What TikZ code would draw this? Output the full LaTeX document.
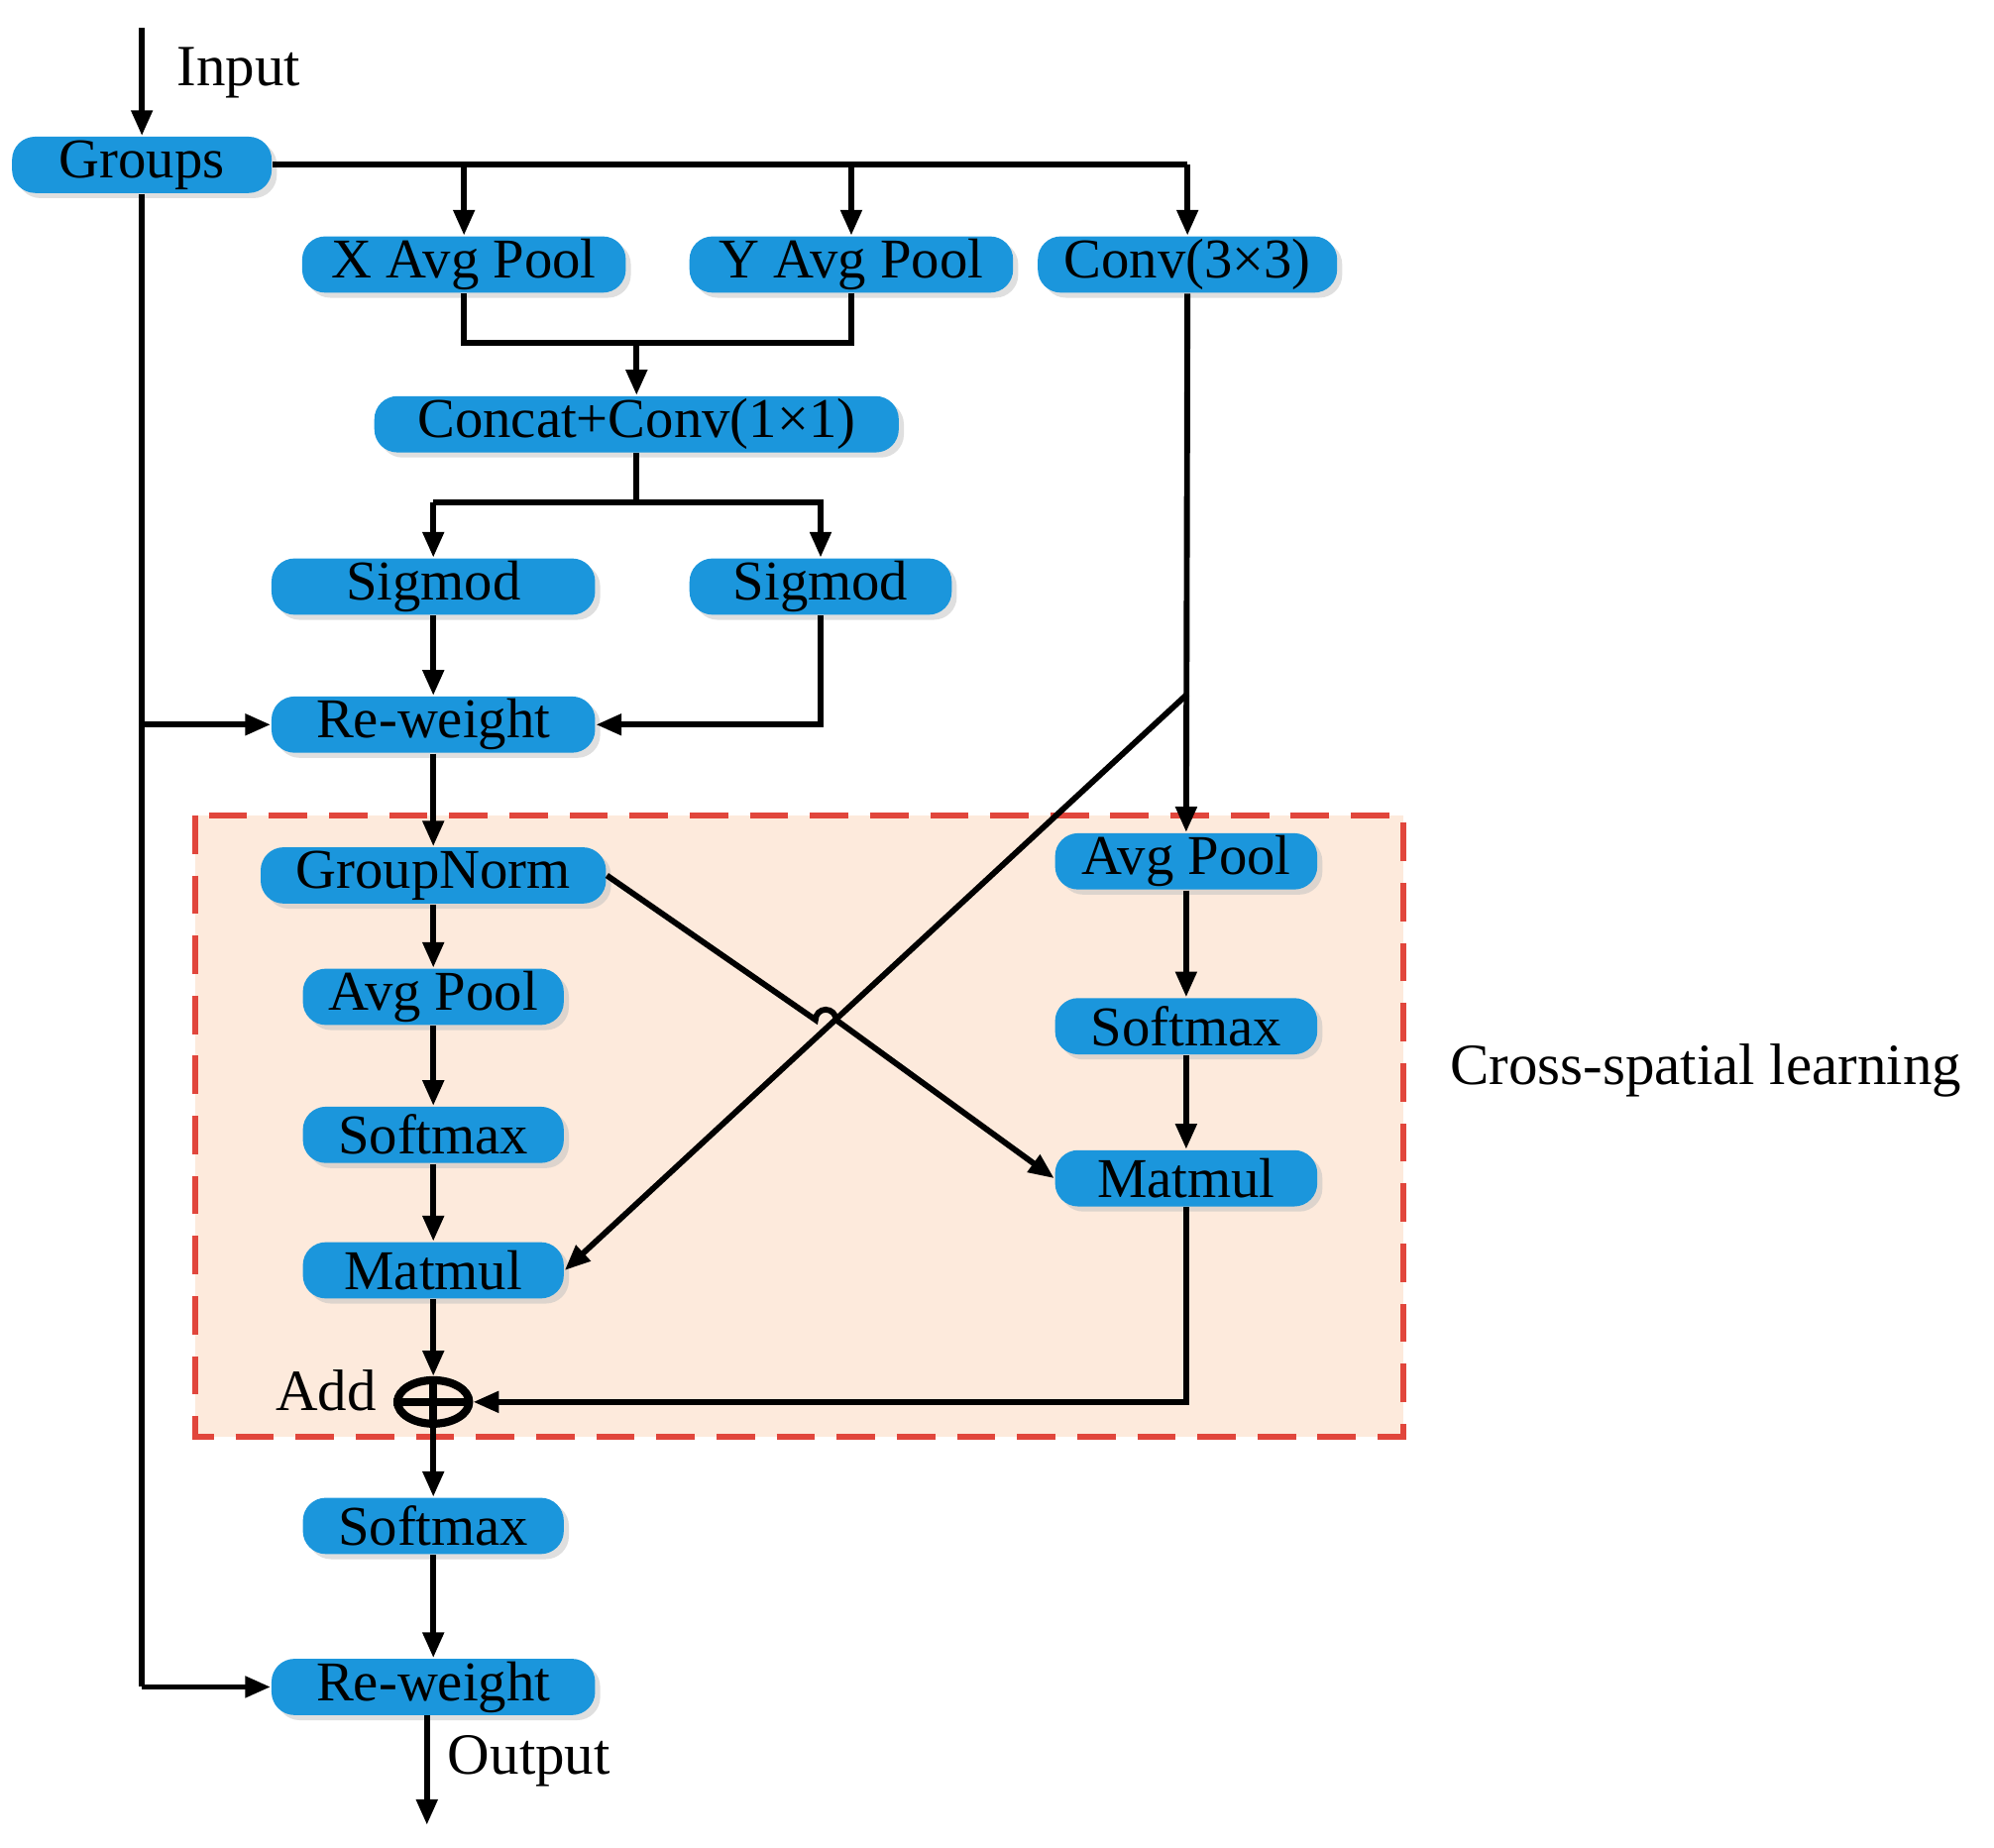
\documentclass[tikz,border=0pt]{standalone}
\usepackage{fontspec}
\setmainfont{Liberation Serif}
\usetikzlibrary{arrows.meta,shadows,shapes.geometric}
\definecolor{bl}{RGB}{27,150,220}
\definecolor{peach}{RGB}{253,234,220}
\definecolor{dred}{RGB}{225,70,60}
\begin{document}
\begin{tikzpicture}[x=0.01cm,y=-0.01cm,
 blk/.style={draw=none,fill=bl,rounded corners=0.18cm,minimum height=0.44cm,inner sep=0pt,font=\fontsize{12.5}{13}\selectfont,drop shadow={shadow xshift=0.04cm,shadow yshift=-0.04cm,fill=black!25}},
 ln/.style={line width=1.3pt},
 ar/.style={ln,-{Triangle[length=0.2cm,width=0.16cm]}},
 lab/.style={font=\fontsize{13}{14}\selectfont}]
\useasboundingbox (0,0) rectangle (1560,1446);
\fill[peach] (153,638) rectangle (1098,1124);
\draw[dred,line width=1.3pt,dash pattern=on 0.3cm off 0.17cm] (153,638) rectangle (1098,1124);
\node[blk,minimum width=2.03cm] (g) at (111,129) {Groups};
\node[blk,minimum width=2.53cm] (xa) at (363,207) {X Avg Pool};
\node[blk,minimum width=2.53cm] (ya) at (666,207) {Y Avg Pool};
\node[blk,minimum width=2.34cm] (cv) at (929,207) {Conv(3×3)};
\node[blk,minimum width=4.1cm] (cc) at (498,332) {Concat+Conv(1×1)};
\node[blk,minimum width=2.53cm] (s1) at (339,459) {Sigmod};
\node[blk,minimum width=2.05cm] (s2) at (642,459) {Sigmod};
\node[blk,minimum width=2.53cm] (r1) at (339,567) {Re-weight};
\node[blk,minimum width=2.7cm] (gn) at (339,685) {GroupNorm};
\node[blk,minimum width=2.04cm] (ap) at (339,780) {Avg Pool};
\node[blk,minimum width=2.04cm] (sm) at (339,888) {Softmax};
\node[blk,minimum width=2.04cm] (mm) at (339,994) {Matmul};
\node[draw,line width=1.8pt,ellipse,minimum width=0.56cm,minimum height=0.34cm,inner sep=0pt] (add) at (339,1097) {};
\draw[line width=1.8pt] (add.west)--(add.east) (add.north)--(add.south);
\node[lab,anchor=east] at (307,1088) {Add};
\node[blk,minimum width=2.04cm] (sb) at (339,1194) {Softmax};
\node[blk,minimum width=2.53cm] (r2) at (339,1320) {Re-weight};
\node[blk,minimum width=2.05cm] (apr) at (928,674) {Avg Pool};
\node[blk,minimum width=2.05cm] (smr) at (928,803) {Softmax};
\node[blk,minimum width=2.05cm] (mmr) at (928,922) {Matmul};
\node[lab,anchor=west] at (1122,838) {Cross-spatial learning};
\coordinate (in) at (111,22);
\coordinate (out) at (334,1428);
\draw[ar] (in)--(g.north);
\node[lab,anchor=west] at (126,57) {Input};
\draw[ar] (334,1342)--(out);
\node[lab,anchor=west] at (338,1378) {Output};
\draw[ln] (g.east)--(929,129);
\draw[ar] (929,129)--(cv.north);
\draw[ar] (363,129)--(xa.north);
\draw[ar] (666,129)--(ya.north);
\draw[ln] (xa.south)--(363,268)--(666,268)--(ya.south);
\draw[ar] (498,268)--(cc.north);
\draw[ln] (cc.south)--(498,393);
\draw[ar] (339,393)--(642,393)--(s2.north);
\draw[ar] (339,393)--(s1.north);
\draw[ar] (s1)--(r1);
\draw[ar] (s2.south)--(642,567)--(r1.east);
\draw[ln] (g.south)--(111,1320);
\draw[ar] (111,1320)--(r2.west);
\draw[ar] (111,567)--(r1.west);
\draw[ar] (r1)--(gn);
\draw[ar] (gn)--(ap);
\draw[ar] (ap)--(sm);
\draw[ar] (sm)--(mm);
\draw[ar] (mm)--(add.north);
\draw[ar] (add.south)--(sb.north);
\draw[ar] (sb)--(r2);
\draw[ar] (cv.south)--(apr.north);
\draw[ar] (929,543)--(mm.east);
\draw[ar] (gn.east)--(638,798) arc (180:0:0.08cm) -- (mmr.west);
\draw[ar] (apr)--(smr);
\draw[ar] (smr)--(mmr);
\draw[ar] (mmr.south)--(928,1097)--(add.east);
\end{tikzpicture}
\end{document}
